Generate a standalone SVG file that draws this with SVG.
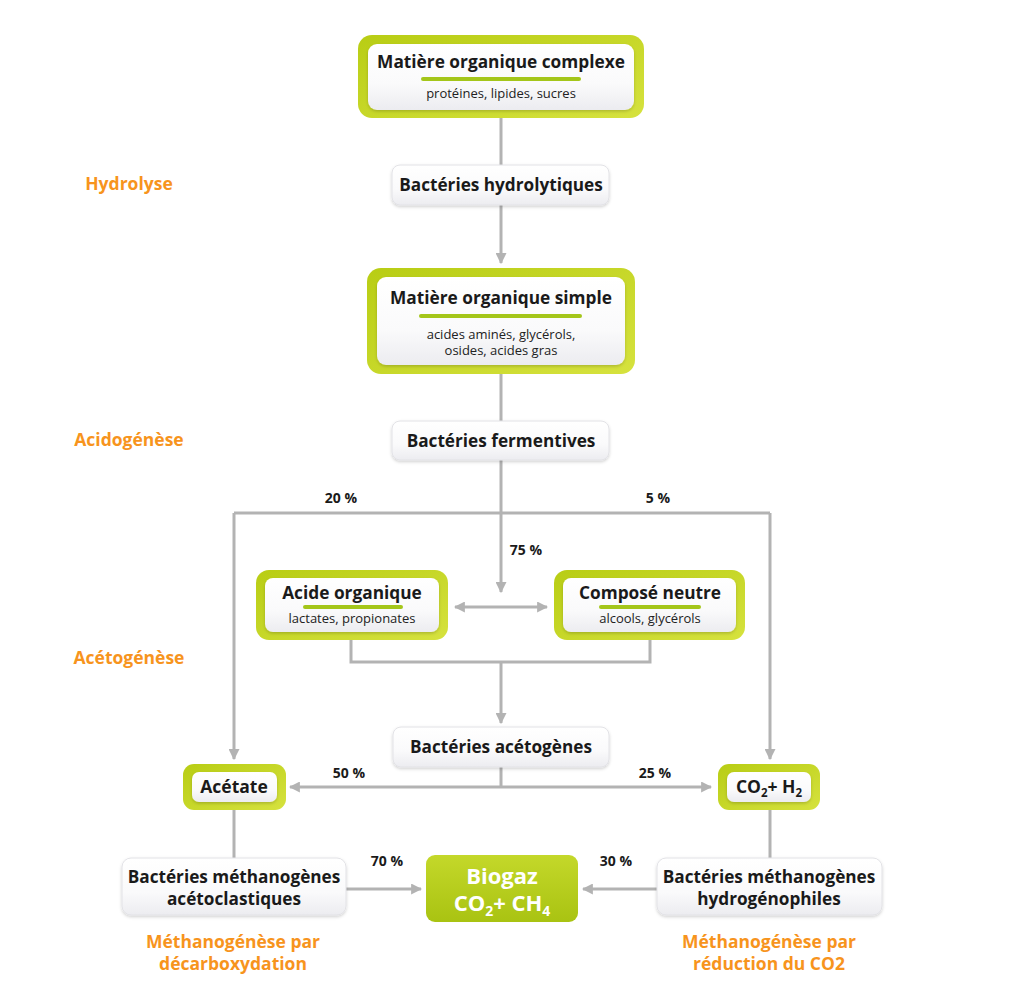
<svg xmlns="http://www.w3.org/2000/svg" width="1024" height="1005" viewBox="0 0 1024 1005">
<defs>
<linearGradient id="lime" x1="0" y1="0" x2="1" y2="1">
<stop offset="0" stop-color="#b8cd14"/>
<stop offset="1" stop-color="#d6e23e"/>
</linearGradient>
<linearGradient id="inner" x1="0" y1="0" x2="0" y2="1">
<stop offset="0" stop-color="#ffffff"/>
<stop offset="0.6" stop-color="#fafafb"/>
<stop offset="1" stop-color="#ececf0"/>
</linearGradient>
<linearGradient id="bio" x1="0" y1="0" x2="0" y2="1">
<stop offset="0" stop-color="#c4d82a"/>
<stop offset="1" stop-color="#a9c312"/>
</linearGradient>
<filter id="sh" x="-10%" y="-20%" width="120%" height="150%">
<feDropShadow dx="0" dy="1.5" stdDeviation="1.5" flood-color="#000" flood-opacity="0.18"/>
</filter>
<marker id="ah" viewBox="0 0 10 10" refX="9" refY="5" markerWidth="11" markerHeight="11" markerUnits="userSpaceOnUse" orient="auto-start-reverse">
<path d="M0,0 L10,5 L0,10 z" fill="#b3b3b3"/>
</marker>
</defs>
<style>
.t{font-family:"Open Sans","DejaVu Sans",sans-serif;font-weight:700;fill:#1a1a1a;text-anchor:middle}
.s{font-family:"Open Sans","DejaVu Sans",sans-serif;font-weight:400;fill:#222;text-anchor:middle;font-size:13px}
.o{font-family:"Open Sans","DejaVu Sans",sans-serif;font-weight:700;fill:#f7941d;text-anchor:middle;font-size:17.5px}
.p{font-family:"Open Sans","DejaVu Sans",sans-serif;font-weight:700;fill:#1a1a1a;text-anchor:middle;font-size:14px}
.outer{fill:url(#lime)}
.in{fill:url(#inner);filter:url(#sh)}
.bac{fill:url(#inner);stroke:#e2e2e6;stroke-width:1;filter:url(#sh)}
.ul{stroke:#a4c61a;stroke-width:4;stroke-linecap:round}
.c{fill:none;stroke:#b3b3b3;stroke-width:3}
</style>

<g id="connectors">
<path class="c" d="M501,118 V165"/>
<path class="c" d="M501,205 V263" marker-end="url(#ah)"/>
<path class="c" d="M501,374 V421"/>
<path class="c" d="M501,460 V513"/>
<path class="c" d="M234,513 H770"/>
<path class="c" d="M234,513 V759" marker-end="url(#ah)"/>
<path class="c" d="M770,513 V759" marker-end="url(#ah)"/>
<path class="c" d="M501,513 V592" marker-end="url(#ah)"/>
<path class="c" d="M455,607 H547" marker-start="url(#ah)" marker-end="url(#ah)"/>
<path class="c" d="M351,640 V662 H650 V640"/>
<path class="c" d="M501,662 V723" marker-end="url(#ah)"/>
<path class="c" d="M501,767 V787"/>
<path class="c" d="M290,787 H711" marker-start="url(#ah)" marker-end="url(#ah)"/>
<path class="c" d="M234,810 V858"/>
<path class="c" d="M770,810 V858"/>
<path class="c" d="M346,889 H421" marker-end="url(#ah)"/>
<path class="c" d="M657,889 H583" marker-end="url(#ah)"/>
</g>

<g id="stage-labels">
<text class="o" x="129" y="190">Hydrolyse</text>
<text class="o" x="129" y="446">Acidogénèse</text>
<text class="o" x="129" y="664">Acétogénèse</text>
<text class="o" x="233" y="948">Méthanogénèse par</text>
<text class="o" x="233" y="970">décarboxydation</text>
<text class="o" x="769" y="948">Méthanogénèse par</text>
<text class="o" x="769" y="970">réduction du CO2</text>
</g>

<g id="percentages">
<text class="p" x="341" y="503">20 %</text>
<text class="p" x="658" y="503">5 %</text>
<text class="p" x="526" y="555">75 %</text>
<text class="p" x="349" y="778">50 %</text>
<text class="p" x="655" y="778">25 %</text>
<text class="p" x="387" y="866">70 %</text>
<text class="p" x="616" y="866">30 %</text>
</g>

<g id="node-complexe">
<rect class="outer" x="358" y="35" width="286" height="83" rx="14"/>
<rect class="in" x="368" y="44" width="266" height="66" rx="9"/>
<text class="t" x="501" y="68" font-size="17.3">Matière organique complexe</text>
<line class="ul" x1="423" y1="79" x2="579" y2="79"/>
<text class="s" x="501" y="98">protéines, lipides, sucres</text>
</g>

<g id="node-hydrolytiques">
<rect class="bac" x="392" y="165" width="217" height="40" rx="8"/>
<text class="t" x="501" y="191" font-size="17.2">Bactéries hydrolytiques</text>
</g>

<g id="node-simple">
<rect class="outer" x="367" y="268" width="268" height="106" rx="14"/>
<rect class="in" x="377" y="277" width="248" height="88" rx="9"/>
<text class="t" x="501" y="304" font-size="17.3">Matière organique simple</text>
<line class="ul" x1="421" y1="316" x2="580" y2="316"/>
<text class="s" x="501" y="339">acides aminés, glycérols,</text>
<text class="s" x="501" y="355">osides, acides gras</text>
</g>

<g id="node-fermentives">
<rect class="bac" x="392" y="421" width="217" height="39" rx="8"/>
<text class="t" x="501" y="447" font-size="17.2">Bactéries fermentives</text>
</g>

<g id="node-acide">
<rect class="outer" x="256" y="570" width="192" height="70" rx="13"/>
<rect class="in" x="265" y="578" width="174" height="54" rx="8"/>
<text class="t" x="352" y="599" font-size="17.3">Acide organique</text>
<line class="ul" x1="305" y1="607" x2="401" y2="607"/>
<text class="s" x="352" y="623">lactates, propionates</text>
</g>

<g id="node-neutre">
<rect class="outer" x="554" y="570" width="191" height="70" rx="13"/>
<rect class="in" x="563" y="578" width="173" height="54" rx="8"/>
<text class="t" x="650" y="599" font-size="17.3">Composé neutre</text>
<line class="ul" x1="601" y1="607" x2="699" y2="607"/>
<text class="s" x="650" y="623">alcools, glycérols</text>
</g>

<g id="node-acetogenes">
<rect class="bac" x="393" y="727" width="216" height="40" rx="8"/>
<text class="t" x="501" y="753" font-size="17.2">Bactéries acétogènes</text>
</g>

<g id="node-acetate">
<rect class="outer" x="183" y="764" width="103" height="46" rx="11"/>
<rect class="in" x="192" y="772" width="85" height="30" rx="7"/>
<text class="t" x="234" y="793" font-size="17.5">Acétate</text>
</g>

<g id="node-co2h2">
<rect class="outer" x="718" y="764" width="102" height="46" rx="11"/>
<rect class="in" x="727" y="772" width="84" height="30" rx="7"/>
<text class="t" x="769" y="793" font-size="17.5">CO<tspan font-size="11.5" dy="4">2</tspan><tspan dy="-4">+ H</tspan><tspan font-size="11.5" dy="4">2</tspan></text>
</g>

<g id="node-acetoclastiques">
<rect class="bac" x="122" y="858" width="224" height="57" rx="9"/>
<text class="t" x="234" y="883" font-size="17.2">Bactéries méthanogènes</text>
<text class="t" x="234" y="905" font-size="17.2">acétoclastiques</text>
</g>

<g id="node-biogaz">
<rect x="426" y="855" width="152" height="67" rx="9" fill="url(#bio)"/>
<text class="t" x="502" y="884" font-size="22" style="fill:#ffffff">Biogaz</text>
<text class="t" x="502" y="911" font-size="22" style="fill:#ffffff">CO<tspan font-size="14" dy="5">2</tspan><tspan dy="-5">+ CH</tspan><tspan font-size="14" dy="5">4</tspan></text>
</g>

<g id="node-hydrogenophiles">
<rect class="bac" x="657" y="858" width="225" height="57" rx="9"/>
<text class="t" x="769" y="883" font-size="17.2">Bactéries méthanogènes</text>
<text class="t" x="769" y="905" font-size="17.2">hydrogénophiles</text>
</g>
</svg>
